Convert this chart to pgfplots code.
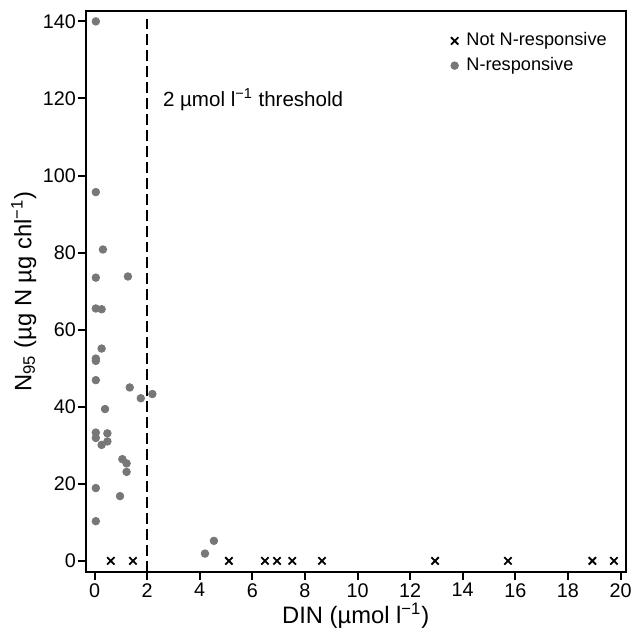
\documentclass[border=0pt]{standalone}
\usepackage{pgfplots}
\pgfplotsset{compat=1.18}
\usepackage{fontspec}
\setmainfont{Liberation Sans}
\definecolor{ptgray}{HTML}{777777}
\begin{document}
\begin{tikzpicture}
\begin{axis}[
  scale only axis,
  width=270.5pt, height=281pt,
  xmin=-0.33, xmax=20.2, ymin=-2.85, ymax=142.7,
  xtick={0,2,...,20}, ytick={0,20,...,140},
  tick align=outside, xtick pos=bottom, ytick pos=left,
  major tick length=4pt,
  axis line style={line width=1pt},
  every tick/.style={black, line width=1pt},
  /pgf/number format/assume math mode=true,
  tick label style={font=\fontsize{9.9}{11}\selectfont},
  yticklabel style={inner sep=0.8pt},
  xticklabel style={inner sep=1.5pt},
  label style={font=\fontsize{11.9}{13}\selectfont},
  xlabel={DIN (µmol l\textsuperscript{−1})},
  ylabel={N\textsubscript{95} (µg N µg chl\textsuperscript{−1})},
  xlabel style={yshift=2pt},
  ylabel style={yshift=-1pt},
  legend style={draw=none, fill=none, at={(0.984,0.976)}, anchor=north east,
    font=\fontsize{9.1}{10}\selectfont, row sep=0.3pt,
    /tikz/every odd column/.append style={column sep=2pt}},
  legend cell align=left,
]
% not N-responsive (DIN > threshold, N95 = 0)
\addplot[only marks, mark=x, mark size=2.6pt, line width=0.9pt, black] coordinates {
  (0.62,0) (1.46,0) (5.11,0) (6.48,0) (6.94,0) (7.52,0) (8.65,0)
  (12.95,0) (15.72,0) (18.93,0) (19.75,0)
};
\addlegendentry{Not N-responsive}
% N-responsive
\addplot[only marks, mark=*, mark size=1.9pt, ptgray, mark options={draw=ptgray, fill=ptgray}] coordinates {
  (0.05,140) (0.05,95.7) (0.32,80.8) (0.05,73.5) (1.27,73.8)
  (0.05,65.5) (0.27,65.3) (0.27,55.1) (0.05,52.5) (0.05,51.9)
  (0.05,46.9) (1.34,45) (1.76,42.2) (2.2,43.3) (0.4,39.4)
  (0.05,33.3) (0.49,33.1) (0.05,31.9) (0.49,31) (0.27,30.1)
  (1.06,26.4) (1.22,25.3) (1.22,23.1) (0.05,18.9) (0.97,16.8)
  (0.05,10.3) (4.2,1.9) (4.54,5.2)
};
\addlegendentry{N-responsive}
% threshold
\addplot[forget plot, black, line width=1pt, dash pattern=on 5.5pt off 2.5pt]
  coordinates {(2,-2.85) (2,140.5)};
\node[anchor=west, inner sep=0pt, font=\fontsize{10.3}{12}\selectfont]
  at (axis cs:2.59,119.7) {2 µmol l\textsuperscript{−1} threshold};
\draw[line width=1pt] (rel axis cs:0,0) rectangle (rel axis cs:1,1);
\end{axis}
\path (current axis.north) ++(0,5.5pt);
\path (current axis.south west) ++(-43pt,0);
\end{tikzpicture}
\end{document}
